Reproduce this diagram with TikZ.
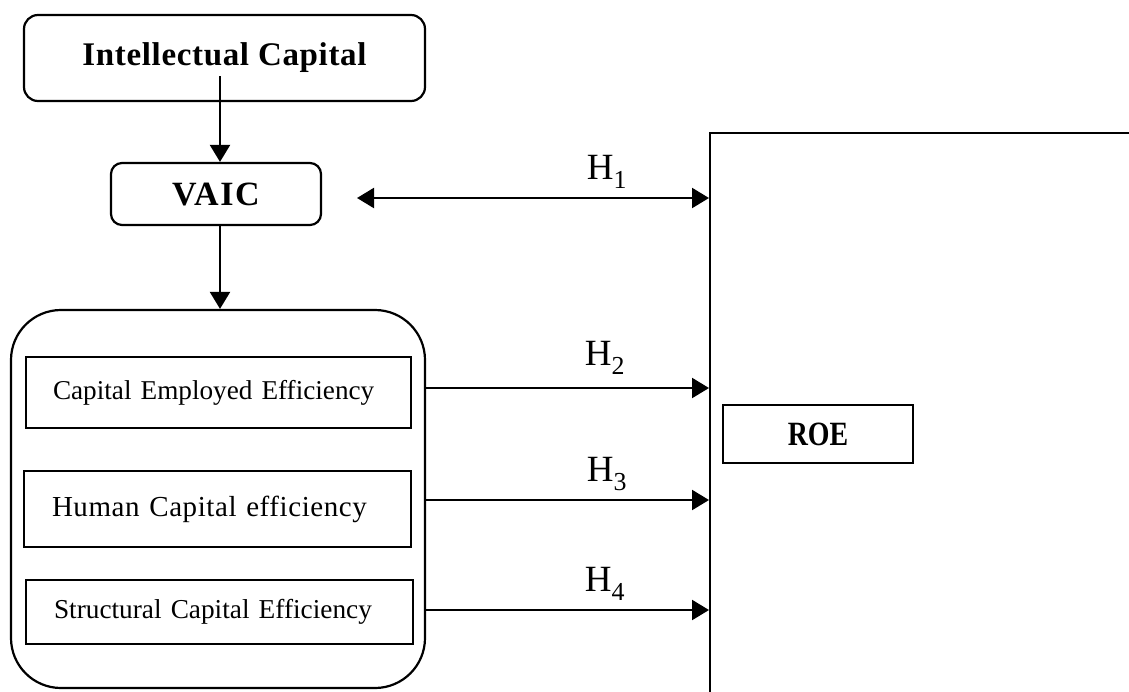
\documentclass[tikz,border=0pt]{standalone}
\usepackage{fontspec}
\setmainfont{Liberation Serif}
\usetikzlibrary{arrows.meta,calc}
\tikzset{
  box/.style={draw, line width=2.2pt, inner sep=0pt, align=center},
  inbox/.style={draw, line width=2.2pt, inner sep=0pt, text width=#1, align=left},
  tip/.tip={Triangle[length=17pt,width=20pt]},
  arr/.style={line width=2.2pt, -tip},
  darr/.style={line width=2.2pt, tip-tip},
  hlab/.style={inner sep=0pt, font=\fontsize{37}{40}\selectfont},
}
\begin{document}
\begin{tikzpicture}[x=1pt,y=-1pt]
\useasboundingbox (0,0) rectangle (1129,691);
% top boxes
\node[box, rounded corners=14pt, minimum width=401pt, minimum height=86pt,
      font=\bfseries\fontsize{33}{36}\selectfont\addfontfeature{LetterSpace=2}] (ic) at (224.5,58) {\raisebox{5pt}{Intellectual Capital}};
\node[box, rounded corners=11pt, minimum width=210pt, minimum height=62pt,
      font=\bfseries\fontsize{34}{36}\selectfont\addfontfeature{LetterSpace=5}] (vaic) at (216,194) {VAIC};
% outer group
\node[box, rounded corners=50pt, minimum width=414pt, minimum height=378pt] (outer) at (218,499) {};
\node[inbox=331pt, minimum width=385pt, minimum height=71pt, inner xsep=27pt,
      font=\fontsize{27.2}{30}\selectfont] (cee) at (218.5,392.5) {Capital Employed Efficiency};
\node[inbox=331pt, minimum width=387pt, minimum height=76pt, inner xsep=28pt,
      font=\fontsize{29}{32}\selectfont\addfontfeature{LetterSpace=2}] (hce) at (217.5,509) {Human Capital efficiency};
\node[inbox=331pt, minimum width=387pt, minimum height=64pt, inner xsep=28pt,
      font=\fontsize{27.3}{30}\selectfont] (sce) at (219.5,612) {Structural Capital Efficiency};
% ROE frame (open to the right and bottom)
\begin{scope}
\clip (0,0) rectangle (1129,691);
\node[draw, line width=2.2pt, minimum width=460pt, minimum height=600pt, anchor=north west, inner sep=0pt] (frame) at (709,132) {};
\end{scope}
\node[box, minimum width=190pt, minimum height=58pt,
      font=\bfseries\fontsize{34}{36}\selectfont\addfontfeature{FakeStretch=0.82}] (roe) at (818,434) {ROE};
% vertical arrows
\coordinate (icarr) at (220,76);
\draw[arr] (icarr) -- (icarr |- vaic.north);
\draw[arr] (vaic.south -| icarr) -- (icarr |- outer.north);
% hypotheses
\coordinate (h1s) at (357,198);
\coordinate (h2s) at (425,388);
\coordinate (h3s) at (425,500);
\coordinate (h4s) at (425,610);
\draw[darr] (h1s) -- (h1s -| frame.west);
\draw[arr] (h2s) -- (h2s -| frame.west);
\draw[arr] (h3s) -- (h3s -| frame.west);
\draw[arr] (h4s) -- (h4s -| frame.west);
\node[hlab] (l1) at (607,172) {H\textsubscript{1}};
\node[hlab] (l2) at (605,358) {H\textsubscript{2}};
\node[hlab] (l3) at (607,474) {H\textsubscript{3}};
\node[hlab] (l4) at (605,584) {H\textsubscript{4}};
\end{tikzpicture}
\end{document}
